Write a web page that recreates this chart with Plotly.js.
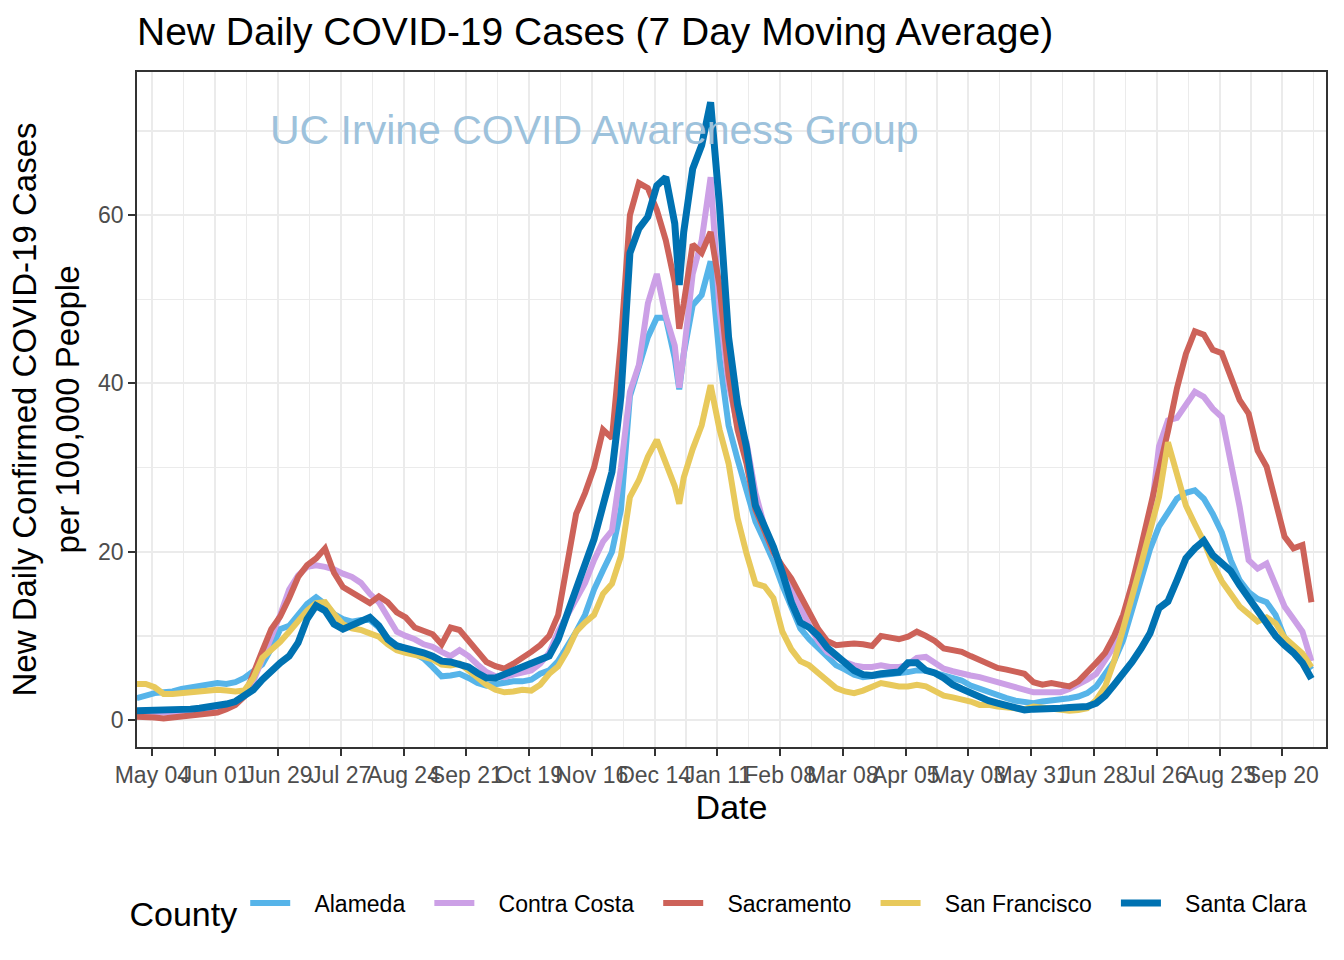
<!DOCTYPE html>
<html>
<head>
<meta charset="utf-8">
<script src="https://cdn.plot.ly/plotly-3.0.1.min.js"></script>
<style>html,body{margin:0;padding:0;background:#fff;}#chart{width:1344px;height:960px;}</style>
</head>
<body>
<div id="chart"></div>
<script>
const dates = [
"2020-04-27","2020-05-01","2020-05-05","2020-05-09","2020-05-13","2020-05-17","2020-05-21","2020-05-25","2020-05-29","2020-06-02",
"2020-06-06","2020-06-10","2020-06-14","2020-06-18","2020-06-22","2020-06-26","2020-06-30","2020-07-04","2020-07-08","2020-07-12",
"2020-07-16","2020-07-20","2020-07-24","2020-07-28","2020-08-01","2020-08-05","2020-08-09","2020-08-13","2020-08-17","2020-08-21",
"2020-08-25","2020-08-29","2020-09-02","2020-09-06","2020-09-10","2020-09-14","2020-09-18","2020-09-22","2020-09-26","2020-09-30",
"2020-10-04","2020-10-08","2020-10-12","2020-10-16","2020-10-20","2020-10-24","2020-10-28","2020-11-01","2020-11-05","2020-11-09",
"2020-11-13","2020-11-17","2020-11-21","2020-11-25","2020-11-29","2020-12-03","2020-12-07","2020-12-11","2020-12-15","2020-12-19",
"2020-12-23","2020-12-25",
"2020-12-27","2020-12-31","2021-01-04","2021-01-08","2021-01-12","2021-01-16","2021-01-20","2021-01-24","2021-01-28",
"2021-02-01","2021-02-05","2021-02-09","2021-02-13","2021-02-17","2021-02-21","2021-02-25","2021-03-01","2021-03-05","2021-03-09",
"2021-03-13","2021-03-17","2021-03-21","2021-03-25","2021-03-29","2021-04-02","2021-04-06","2021-04-10","2021-04-14","2021-04-18",
"2021-04-22","2021-04-26","2021-04-30","2021-05-04","2021-05-08","2021-05-12","2021-05-16","2021-05-20","2021-05-24","2021-05-28",
"2021-06-01","2021-06-05","2021-06-09","2021-06-13","2021-06-17","2021-06-21","2021-06-25","2021-06-29","2021-07-03","2021-07-07",
"2021-07-11","2021-07-15","2021-07-19","2021-07-23","2021-07-27","2021-07-31","2021-08-04","2021-08-08","2021-08-12","2021-08-16",
"2021-08-20","2021-08-24","2021-08-28","2021-09-01","2021-09-05","2021-09-09","2021-09-13","2021-09-17","2021-09-21","2021-09-25",
"2021-09-29","2021-10-03"
];

const alameda = [
2.6,2.9,3.2,3.3,3.4,3.7,3.9,4.1,4.3,4.4,
4.3,4.5,5.0,5.7,6.6,8.5,10.8,11.2,12.5,13.8,
14.6,13.8,12.6,12.0,11.7,11.9,11.9,11.0,9.7,8.9,
8.5,7.9,7.3,6.3,5.2,5.3,5.5,5.0,4.4,4.1,
4.3,4.5,4.6,4.6,4.8,5.5,5.9,7.0,8.6,10.5,
12.5,15.5,17.8,20.0,25.0,38.5,42.0,45.5,47.8,47.8,
43.0,39.3,
43.5,49.3,50.5,54.5,43.0,35.0,31.0,27.0,23.6,
21.3,18.9,16.0,13.4,10.9,9.6,8.6,7.4,6.5,6.0,
5.4,5.1,5.2,5.4,5.5,5.6,5.7,5.9,5.9,5.6,
5.3,5.1,4.7,4.1,3.7,3.3,3.0,2.6,2.3,2.1,
2.0,2.2,2.3,2.5,2.6,2.8,3.2,4.0,5.6,7.0,
9.5,13.0,17.0,20.3,23.0,24.8,26.3,27.0,27.3,26.3,
24.5,22.3,19.0,16.6,15.2,14.4,14.0,12.5,9.8,8.6,
7.5,6.0
];

const contraCosta = [
0.9,0.9,0.9,0.8,0.9,1.0,1.1,1.2,1.4,1.6,
1.8,2.2,3.0,4.6,7.2,9.9,12.5,15.5,17.2,18.2,
18.4,18.2,17.9,17.4,17.0,16.3,15.0,14.0,12.3,10.5,
10.0,9.6,9.0,8.7,8.1,7.6,8.3,7.6,6.6,5.7,
5.2,5.1,5.4,5.6,5.9,6.7,8.0,10.5,12.5,14.3,
16.3,19.0,21.2,22.5,30.0,39.0,42.2,49.5,53.0,48.0,
44.5,39.5,
43.5,53.0,57.0,64.5,48.7,40.0,35.0,33.0,27.0,
23.0,20.0,17.9,15.8,13.5,11.2,9.4,8.1,7.4,6.9,
6.5,6.3,6.3,6.5,6.3,6.3,6.6,7.4,7.5,6.7,
6.1,5.8,5.5,5.3,5.1,4.8,4.5,4.3,4.0,3.6,
3.3,3.3,3.3,3.3,3.7,4.2,4.8,5.5,7.0,8.8,
11.5,15.5,19.5,23.5,32.5,35.6,35.9,37.4,39.0,38.4,
37.0,36.0,31.0,25.3,19.0,18.0,18.6,16.0,13.5,12.0,
10.5,7.0
];

const sacramento = [
0.4,0.4,0.3,0.2,0.3,0.4,0.5,0.6,0.7,0.9,
1.3,1.8,2.8,5.3,8.2,10.8,12.3,14.5,17.0,18.4,
19.2,20.4,17.5,15.8,15.2,14.6,13.9,14.7,14.0,12.8,
12.2,11.0,10.6,10.2,9.0,11.0,10.7,9.5,8.1,6.9,
6.4,6.1,6.7,7.3,8.1,8.9,10.0,12.5,18.5,24.5,
27.0,30.0,34.5,33.5,45.0,60.0,63.8,63.2,60.6,57.0,
52.0,46.5,
49.5,56.5,55.5,58.0,51.5,41.0,34.5,30.5,25.0,
22.3,20.0,18.3,16.8,14.8,12.7,10.8,9.4,8.9,9.0,
9.1,9.0,8.8,10.0,9.8,9.6,9.9,10.5,10.0,9.4,
8.5,8.3,8.1,7.6,7.1,6.6,6.2,6.0,5.8,5.5,
4.5,4.2,4.4,4.2,4.0,4.6,5.6,6.8,8.0,10.0,
12.5,16.2,20.6,25.2,29.4,34.3,39.4,43.5,46.2,45.8,
44.0,43.6,40.8,38.0,36.4,32.0,30.1,26.0,21.8,20.4,
20.8,14.0
];

const sanFrancisco = [
4.3,4.3,3.9,3.1,3.1,3.2,3.3,3.4,3.5,3.6,
3.5,3.4,3.5,5.0,7.4,8.3,9.3,10.5,11.8,13.0,
13.9,14.0,12.6,11.4,10.9,10.7,10.3,9.9,9.0,8.3,
8.0,7.8,7.5,7.2,6.6,6.5,6.7,5.9,5.0,4.2,
3.6,3.3,3.4,3.6,3.5,4.2,5.5,6.4,8.2,10.5,
11.6,12.5,15.0,16.2,19.5,26.5,28.5,31.3,33.3,30.7,
27.8,25.7,
28.8,32.2,35.0,39.8,34.5,30.5,24.0,19.8,16.2,
15.9,14.5,10.5,8.4,7.0,6.5,5.6,4.7,3.8,3.4,
3.2,3.5,3.9,4.4,4.2,4.0,4.0,4.2,4.0,3.4,
2.9,2.7,2.5,2.2,1.8,1.8,1.6,1.5,1.3,1.3,
1.6,1.5,1.4,1.2,1.1,1.2,1.4,2.4,4.0,7.0,
10.8,14.2,18.5,22.5,26.5,33.0,29.5,25.5,23.3,21.2,
18.6,16.5,15.0,13.5,12.6,11.7,12.2,11.5,9.8,8.9,
7.9,6.3
];

const santaClara = [
1.1,1.1,1.1,1.1,1.2,1.2,1.3,1.4,1.5,1.7,
1.9,2.2,2.8,3.6,4.8,5.9,6.8,7.6,9.2,12.0,
13.6,13.0,11.4,10.8,11.2,11.8,12.2,11.2,9.6,8.8,
8.6,8.3,8.0,7.6,7.0,6.9,6.6,6.3,5.6,5.0,
5.0,5.4,5.8,6.2,6.6,7.0,7.6,9.6,12.5,15.5,
18.5,21.5,25.5,29.5,38.5,55.5,58.4,59.8,63.5,64.5,
59.0,51.7,
58.0,65.5,68.3,73.4,61.0,45.5,37.5,32.4,25.5,
23.2,20.6,17.5,14.0,11.6,11.0,10.0,8.6,7.7,6.9,
5.9,5.4,5.3,5.5,5.5,5.7,6.8,6.8,5.9,5.6,
5.0,4.2,3.7,3.2,2.7,2.3,2.0,1.7,1.4,1.2,
1.3,1.3,1.2,1.4,1.5,1.5,1.6,2.0,2.9,4.2,
5.5,6.9,8.5,10.3,13.3,14.1,16.6,19.2,20.4,21.3,
19.6,18.7,17.7,16.0,14.5,13.0,11.5,10.0,8.9,8.0,
6.8,4.9
];

const counties = ["Alameda","Contra Costa","Sacramento","San Francisco","Santa Clara"];
const seriesValues = [alameda, contraCosta, sacramento, sanFrancisco, santaClara];
const colors = ["#56B4E9","#CCA0E6","#CD6259","#E8C95B","#0072B2"];
const widths = [6,6,6,6,7];

const NB = "\u00A0";
const traces = counties.map((name,i)=>({
  type:"scatter", mode:"lines",
  name: NB+NB+NB+name+(i<counties.length-1 ? NB+NB+NB : ""),
  x:dates, y:seriesValues[i],
  line:{color:colors[i], width:widths[i]}, hoverinfo:"skip"
}));

const FONT = "Liberation Sans, Arial, Helvetica, sans-serif";
const DAY = 86400000;

const layout = {
  width:1344, height:960,
  margin:{l:137, r:18, t:72, b:213},
  paper_bgcolor:"#ffffff", plot_bgcolor:"#ffffff",
  font:{family:FONT, color:"#000000"},
  showlegend:true,
  title:{text:"New Daily COVID-19 Cases (7 Day Moving Average)", font:{family:FONT, size:39, color:"#000000"},
         xref:"paper", x:0, xanchor:"left", yref:"container", y:1-31/960, yanchor:"middle"},
  xaxis:{
    type:"date", range:["2020-04-27 03:00","2021-10-09 12:00"],
    tick0:"2020-05-04", dtick:28*DAY, tickformat:"%b %d", tickangle:0,
    ticks:"outside", ticklen:7, tickwidth:2, tickcolor:"#333333",
    tickfont:{family:FONT, size:23, color:"#4D4D4D"},
    showgrid:true, gridcolor:"#EBEBEB", gridwidth:2,
    minor:{tick0:"2020-05-18", dtick:28*DAY, showgrid:true, gridcolor:"#EBEBEB", gridwidth:1.2, ticks:""},
    showline:true, mirror:true, linecolor:"#333333", linewidth:1.8, zeroline:false,
    title:{text:"Date", font:{family:FONT, size:34, color:"#000000"}, standoff:6}
  },
  yaxis:{
    range:[-3.2, 77.0], tick0:0, dtick:20,
    ticks:"outside", ticklen:7, tickwidth:2, tickcolor:"#333333",
    tickfont:{family:FONT, size:23, color:"#4D4D4D"},
    showgrid:true, gridcolor:"#EBEBEB", gridwidth:2,
    minor:{tick0:10, dtick:20, showgrid:true, gridcolor:"#EBEBEB", gridwidth:1.2, ticks:""},
    showline:true, mirror:true, linecolor:"#333333", linewidth:1.8, zeroline:false,
    title:{text:"New Daily Confirmed COVID-19 Cases<br>per 100,000 People", font:{family:FONT, size:33, color:"#000000"}, standoff:8}
  },
  legend:{
    orientation:"h", x:-0.008, xanchor:"left", y:-0.24, yanchor:"middle",
    title:{text:"County", side:"left", font:{family:FONT, size:34, color:"#000000"}},
    font:{family:FONT, size:23, color:"#000000"}, itemwidth:40, bgcolor:"rgba(0,0,0,0)"
  },
  annotations:[{
    text:"UC Irvine COVID Awareness Group", xref:"paper", yref:"paper",
    x:0.385, y:0.914, xanchor:"center", yanchor:"middle", showarrow:false,
    font:{family:FONT, size:41, color:"#9DC2DC"}
  }]
};

Plotly.newPlot("chart", traces, layout, {staticPlot:true, displayModeBar:false});
</script>
</body>
</html>
